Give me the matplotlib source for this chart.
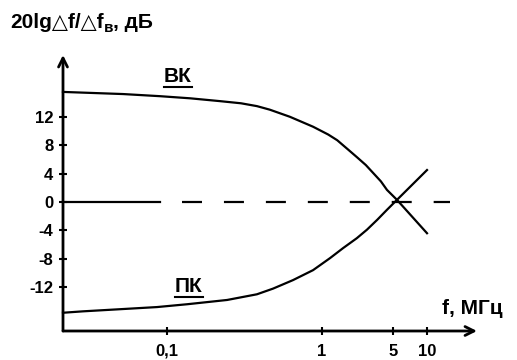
import matplotlib
matplotlib.use('Agg')
import matplotlib.pyplot as plt
from matplotlib.lines import Line2D
import numpy as np

plt.rcParams['font.family'] = ['Liberation Sans Narrow', 'Liberation Sans', 'DejaVu Sans']
plt.rcParams['font.weight'] = 'bold'
plt.rcParams['lines.scale_dashes'] = False

# curves: frequency in MHz, level in dB
vk_f = np.array([0.0213, 0.052, 0.090, 0.141, 0.22, 0.30, 0.38, 0.46, 0.62, 0.875, 1.15, 1.41, 1.8, 2.21, 2.7, 3.18, 3.8, 4.36, 5.42, 10])
vk_db = np.array([15.5, 15.2, 14.9, 14.6, 14.2, 13.9, 13.5, 13.0, 12.0, 10.6, 9.5, 8.7, 7.4, 6.3, 5.2, 4.1, 2.9, 1.7, 0.3, -4.4])
pk_f = np.array([0.0213, 0.0287, 0.0498, 0.086, 0.135, 0.244, 0.38, 0.483, 0.65, 0.875, 1.2, 1.61, 2.2, 2.77, 3.5, 4.36, 5.42, 10])
pk_db = np.array([-15.6, -15.4, -15.1, -14.8, -14.4, -13.8, -13.0, -12.2, -11.0, -9.6, -7.9, -6.5, -5.1, -3.9, -2.5, -1.1, 0.3, 4.5])

xticks = [0.1, 1, 5, 10]
xticklabels = ['0,1', '1', '5', '10']
yticks = [12, 8, 4, 0, -4, -8, -12]
yticklabels = ['12', '8', '4', '0', '-4', '-8', '-12']

# the hand-drawn frequency axis is not a true log scale: decades shrink at the right
knot_lf = np.array([-3, -1, 0, np.log10(5), 1, 3])
knot_u = np.array([-143, 167, 322, 393, 427, 653])


def fwd(f):
    f = np.asarray(f, dtype=float)
    lf = np.log10(np.clip(f, 1e-6, None))
    return np.interp(lf, knot_lf, knot_u)


def inv(u):
    u = np.asarray(u, dtype=float)
    return 10 ** np.interp(u, knot_u, knot_lf)


fig = plt.figure(figsize=(5.17, 3.60), dpi=100)
ax = fig.add_axes([63 / 517, 29 / 360, 414 / 517, 276 / 360])
ax.set_xscale('function', functions=(fwd, inv))
ax.set_xlim(0.0213, 27.7)
ax.set_ylim(-18.17, 20.7)

for s in ax.spines.values():
    s.set_visible(False)

ax.annotate('', xy=(0, 1), xytext=(0, 0), xycoords='axes fraction',
            arrowprops=dict(arrowstyle='->', lw=2, color='black', shrinkA=0, shrinkB=0,
                            mutation_scale=16))
ax.annotate('', xy=(1, 0), xytext=(0, 0), xycoords='axes fraction',
            arrowprops=dict(arrowstyle='->', lw=2, color='black', shrinkA=0, shrinkB=0,
                            mutation_scale=16))

ax.set_xticks(xticks)
ax.set_xticklabels(xticklabels)
ax.set_yticks(yticks)
ax.set_yticklabels(yticklabels)
ax.minorticks_off()
ax.tick_params(direction='inout', length=6, width=1.5, labelsize=12, pad=4)
ax.tick_params(axis='x', pad=6)

ax.plot(vk_f, vk_db, color='black', lw=1.6, clip_on=False)
ax.plot(pk_f, pk_db, color='black', lw=1.6, clip_on=False)

ax.plot([0.0213, 0.090], [0, 0], color='black', lw=1.6, clip_on=False)
ax.plot([0.125, 16.0], [0, 0], color='black', lw=1.6, dashes=(14.4, 15.8))

base = 1 - 28 / 360
t1 = fig.text(10 / 517, base, '20lg△f/△f', fontsize=15, ha='left', va='baseline')
fig.text(442 / 517, 1 - 308 / 360, 'f, МГц', fontsize=15, ha='left', va='center')

lab_vk = fig.text(178 / 517, 1 - 76 / 360, 'ВК', fontsize=15, ha='center', va='center')
lab_pk = fig.text(189 / 517, 1 - 286 / 360, 'ПК', fontsize=15, ha='center', va='center')

fig.canvas.draw()
r = fig.canvas.get_renderer()
W, H = fig.bbox.width, fig.bbox.height
bb = t1.get_window_extent(r)
t2 = fig.text(bb.x1 / W, base - 4 / H, 'в', fontsize=11, ha='left', va='baseline')
fig.canvas.draw()
bb2 = t2.get_window_extent(r)
fig.text(bb2.x1 / W, base, ', дБ', fontsize=15, ha='left', va='baseline')

for t in (lab_vk, lab_pk):
    bb = t.get_window_extent(r)
    y = (bb.y0 - 1) / H
    fig.add_artist(Line2D([bb.x0 / W, bb.x1 / W], [y, y], color='black', lw=1.5))

fig.savefig('out.png', dpi=100)
